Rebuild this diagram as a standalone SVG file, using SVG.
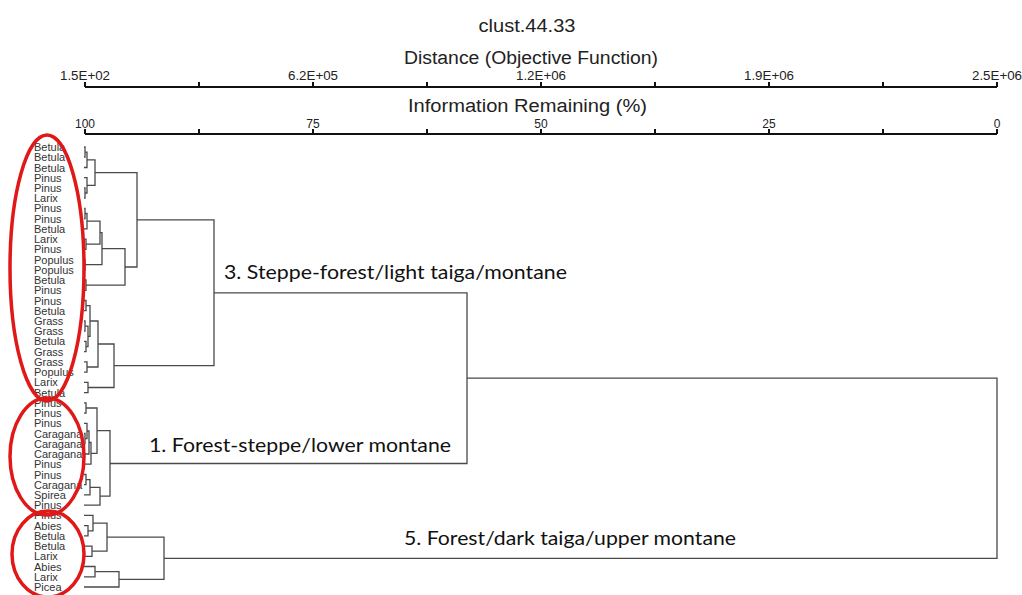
<svg xmlns="http://www.w3.org/2000/svg" width="1022" height="595" viewBox="0 0 1022 595">
<style>
.ax{stroke:#111;stroke-width:2;fill:none}
.tk{font-family:"Liberation Sans",Arial,sans-serif;font-size:12px;fill:#222;text-anchor:middle}
.ttl{font-family:"Liberation Sans",Arial,sans-serif;font-size:18px;fill:#222;text-anchor:middle}
.lf{font-family:"Liberation Sans",Arial,sans-serif;font-size:11px;fill:#333}
.cl{font-family:Lato,"Open Sans",sans-serif;font-size:20px;fill:#111}
.br{stroke:#4a4a4a;stroke-width:1.3;fill:none}
.ring{stroke:#e01818;stroke-width:3.5;fill:none}
</style>
<rect width="1022" height="595" fill="#fff"/>
<g id="title">
<text class="ttl" x="527" y="32" textLength="97" lengthAdjust="spacingAndGlyphs">clust.44.33</text>
</g>
<g id="axis-distance">
<text class="ttl" x="531" y="64" textLength="254" lengthAdjust="spacingAndGlyphs">Distance (Objective Function)</text>
<path class="ax" d="M85 87H997M85 82V87M199 82V87M313 82V87M427 82V87M541 82V87M655 82V87M769 82V87M883 82V87M997 82V87"/>
<text class="tk" x="85" y="80" textLength="50" lengthAdjust="spacingAndGlyphs">1.5E+02</text>
<text class="tk" x="313" y="80" textLength="50" lengthAdjust="spacingAndGlyphs">6.2E+05</text>
<text class="tk" x="541" y="80" textLength="50" lengthAdjust="spacingAndGlyphs">1.2E+06</text>
<text class="tk" x="769" y="80" textLength="50" lengthAdjust="spacingAndGlyphs">1.9E+06</text>
<text class="tk" x="997" y="80" textLength="50" lengthAdjust="spacingAndGlyphs">2.5E+06</text>
</g>
<g id="axis-info">
<text class="ttl" x="527.5" y="112" textLength="239" lengthAdjust="spacingAndGlyphs">Information Remaining (%)</text>
<path class="ax" d="M85 134H997M85 129V134M199 129V134M313 129V134M427 129V134M541 129V134M655 129V134M769 129V134M883 129V134M997 129V134"/>
<text class="tk" x="85" y="128">100</text>
<text class="tk" x="313" y="128">75</text>
<text class="tk" x="541" y="128">50</text>
<text class="tk" x="769" y="128">25</text>
<text class="tk" x="997" y="128">0</text>
</g>
<g id="leaves">
<g id="leaf-1"><text class="lf" x="34" y="151">Betula</text></g>
<g id="leaf-2"><text class="lf" x="34" y="161.2">Betula</text></g>
<g id="leaf-3"><text class="lf" x="34" y="171.5">Betula</text></g>
<g id="leaf-4"><text class="lf" x="34" y="181.7">Pinus</text></g>
<g id="leaf-5"><text class="lf" x="34" y="191.9">Pinus</text></g>
<g id="leaf-6"><text class="lf" x="34" y="202.2">Larix</text></g>
<g id="leaf-7"><text class="lf" x="34" y="212.4">Pinus</text></g>
<g id="leaf-8"><text class="lf" x="34" y="222.6">Pinus</text></g>
<g id="leaf-9"><text class="lf" x="34" y="232.9">Betula</text></g>
<g id="leaf-10"><text class="lf" x="34" y="243.1">Larix</text></g>
<g id="leaf-11"><text class="lf" x="34" y="253.3">Pinus</text></g>
<g id="leaf-12"><text class="lf" x="34" y="263.6">Populus</text></g>
<g id="leaf-13"><text class="lf" x="34" y="273.8">Populus</text></g>
<g id="leaf-14"><text class="lf" x="34" y="284">Betula</text></g>
<g id="leaf-15"><text class="lf" x="34" y="294.3">Pinus</text></g>
<g id="leaf-16"><text class="lf" x="34" y="304.5">Pinus</text></g>
<g id="leaf-17"><text class="lf" x="34" y="314.7">Betula</text></g>
<g id="leaf-18"><text class="lf" x="34" y="325">Grass</text></g>
<g id="leaf-19"><text class="lf" x="34" y="335.2">Grass</text></g>
<g id="leaf-20"><text class="lf" x="34" y="345.4">Betula</text></g>
<g id="leaf-21"><text class="lf" x="34" y="355.7">Grass</text></g>
<g id="leaf-22"><text class="lf" x="34" y="365.9">Grass</text></g>
<g id="leaf-23"><text class="lf" x="34" y="376.1">Populus</text></g>
<g id="leaf-24"><text class="lf" x="34" y="386.4">Larix</text></g>
<g id="leaf-25"><text class="lf" x="34" y="396.6">Betula</text></g>
<g id="leaf-26"><text class="lf" x="34" y="406.8">Pinus</text></g>
<g id="leaf-27"><text class="lf" x="34" y="417.1">Pinus</text></g>
<g id="leaf-28"><text class="lf" x="34" y="427.3">Pinus</text></g>
<g id="leaf-29"><text class="lf" x="34" y="437.5">Caragana</text></g>
<g id="leaf-30"><text class="lf" x="34" y="447.8">Caragana</text></g>
<g id="leaf-31"><text class="lf" x="34" y="458">Caragana</text></g>
<g id="leaf-32"><text class="lf" x="34" y="468.2">Pinus</text></g>
<g id="leaf-33"><text class="lf" x="34" y="478.5">Pinus</text></g>
<g id="leaf-34"><text class="lf" x="34" y="488.7">Caragana</text></g>
<g id="leaf-35"><text class="lf" x="34" y="498.9">Spirea</text></g>
<g id="leaf-36"><text class="lf" x="34" y="509.2">Pinus</text></g>
<g id="leaf-37"><text class="lf" x="34" y="519.4">Pinus</text></g>
<g id="leaf-38"><text class="lf" x="34" y="529.6">Abies</text></g>
<g id="leaf-39"><text class="lf" x="34" y="539.9">Betula</text></g>
<g id="leaf-40"><text class="lf" x="34" y="550.1">Betula</text></g>
<g id="leaf-41"><text class="lf" x="34" y="560.3">Larix</text></g>
<g id="leaf-42"><text class="lf" x="34" y="570.5">Abies</text></g>
<g id="leaf-43"><text class="lf" x="34" y="580.8">Larix</text></g>
<g id="leaf-44"><text class="lf" x="34" y="591">Picea</text></g>
</g>
<g id="connectors" class="br">
<path d="M84 147H85V157.2H84"/>
<path d="M85 152.1H87V167.5H84"/>
<path d="M84 187.9H85V198.2H84"/>
<path d="M84 177.7H87V193H85"/>
<path d="M87 159.8H95V185.4H87"/>
<path d="M84 208.4H85V218.6H84"/>
<path d="M85 213.5H87V228.9H84"/>
<path d="M84 239.1H86V249.3H84"/>
<path d="M87 221.2H100V244.2H86"/>
<path d="M84 259.6H85V269.8H84"/>
<path d="M100 232.7H102V264.7H85"/>
<path d="M84 280H86V290.3H84"/>
<path d="M102 248.7H125V285.2H86"/>
<path d="M95 172.6H137V267H125"/>
<path d="M84 300.5H86V310.7H84"/>
<path d="M84 321H85V331.2H84"/>
<path d="M84 341.4H86V351.7H84"/>
<path d="M85 326.1H88V346.6H86"/>
<path d="M86 305.6H90V336.3H88"/>
<path d="M84 361.9H87V372.1H84"/>
<path d="M90 321H98V367H87"/>
<path d="M84 382.4H88V392.6H84"/>
<path d="M98 344H114V387.5H88"/>
<path d="M137 219.8H214V365.7H114"/>
<path d="M84 402.8H86V413.1H84"/>
<path d="M84 433.5H85V443.8H84"/>
<path d="M84 423.3H87V438.7H85"/>
<path d="M87 431H89V454H84"/>
<path d="M89 442.5H91V464.2H84"/>
<path d="M86 408H97V453.4H91"/>
<path d="M84 474.5H86V484.7H84"/>
<path d="M86 479.6H90V494.9H84"/>
<path d="M90 487.3H100V505.2H84"/>
<path d="M97 430.7H110V496.2H100"/>
<path d="M214 292.8H467V463.5H110"/>
<path d="M84 525.6H88V535.9H84"/>
<path d="M84 515.4H93V530.8H88"/>
<path d="M84 546.1H92V556.3H84"/>
<path d="M93 523.1H107V551.2H92"/>
<path d="M84 566.5H95V576.8H84"/>
<path d="M95 571.7H119V587H84"/>
<path d="M107 537.2H164V579.3H119"/>
<path d="M467 378.1H997V558.3H164"/>
</g>
<g id="cluster-3"><text class="cl" x="224" y="279" textLength="343" lengthAdjust="spacingAndGlyphs">3. Steppe-forest/light taiga/montane</text></g>
<g id="cluster-1"><text class="cl" x="149" y="452" textLength="302" lengthAdjust="spacingAndGlyphs">1. Forest-steppe/lower montane</text></g>
<g id="cluster-5"><text class="cl" x="404" y="545" textLength="332" lengthAdjust="spacingAndGlyphs">5. Forest/dark taiga/upper montane</text></g>
<g id="rings">
<ellipse class="ring" cx="47" cy="268" rx="37" ry="133"/>
<ellipse class="ring" cx="47" cy="456.5" rx="37" ry="58.5"/>
<ellipse class="ring" cx="48" cy="554" rx="36" ry="43"/>
</g>
</svg>
